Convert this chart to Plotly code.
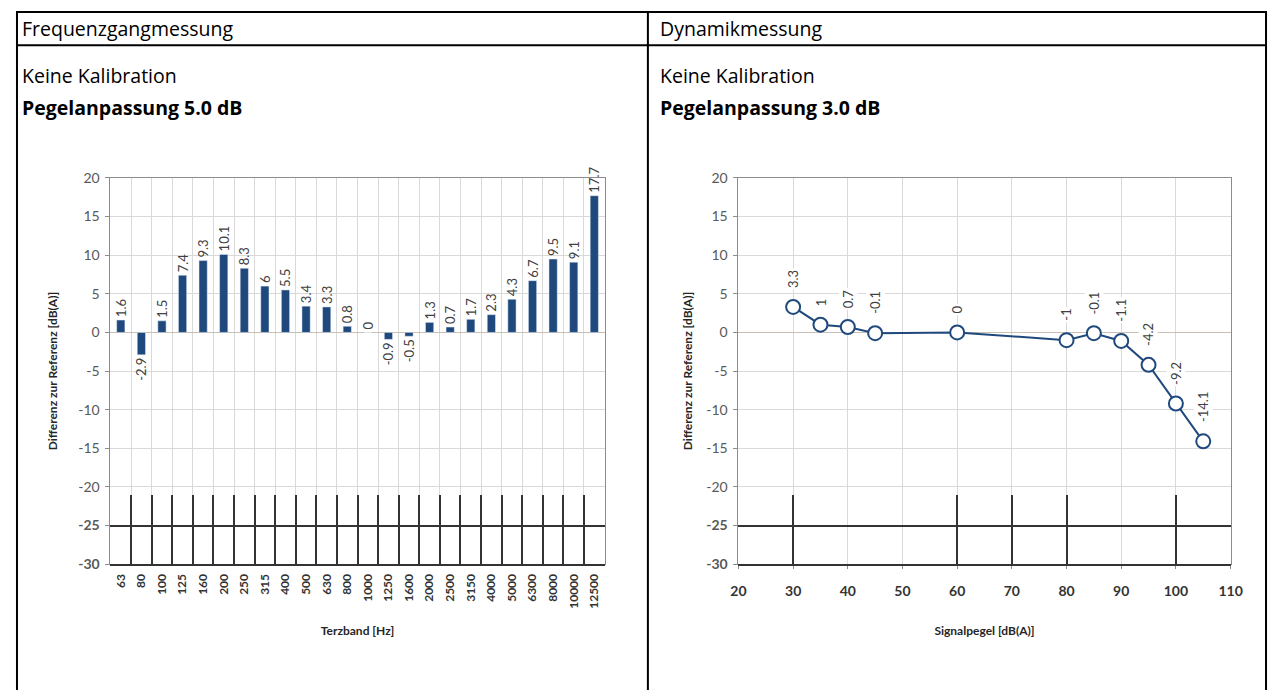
import plotly.graph_objects as go

# ---- data ----
terzband = ["63", "80", "100", "125", "160", "200", "250", "315", "400", "500", "630", "800",
            "1000", "1250", "1600", "2000", "2500", "3150", "4000", "5000", "6300", "8000",
            "10000", "12500"]
freq_diff = [1.6, -2.9, 1.5, 7.4, 9.3, 10.1, 8.3, 6, 5.5, 3.4, 3.3, 0.8,
             0, -0.9, -0.5, 1.3, 0.7, 1.7, 2.3, 4.3, 6.7, 9.5, 9.1, 17.7]

signalpegel = [30, 35, 40, 45, 60, 80, 85, 90, 95, 100, 105]
dyn_diff = [3.3, 1, 0.7, -0.1, 0, -1, -0.1, -1.1, -4.2, -9.2, -14.1]

y_range = [-30, 20]
y_ticks = [20, 15, 10, 5, 0, -5, -10, -15, -20, -25, -30]
x2_range = [20, 110]
band_range = [-30, -21]
band_ticks = [-25, -30]
dyn_dark_x = [30, 60, 70, 80, 100]

# page body has an 8px margin; figure fills the rest
OFF = 8
W, H = 1271, 690
def px(x):
    return (x - OFF) / W
def py(y):
    return 1 - (y - OFF) / H

BLUE = "#1f497d"
GRID = "#d9d9d9"
DARK = "#333333"
AXL = "#8c8c8c"
TICKC = "#595959"
CF = "Lato"
DF = "Open Sans"

TOP, BOT = 173, 569          # pixel rows of y=20 and y=-30
def yval_px(v):
    return TOP + (y_range[1] - v) * (BOT - TOP) / (y_range[1] - y_range[0])

fig = go.Figure()

fig.add_trace(go.Bar(
    x=terzband, y=freq_diff, marker_color=BLUE, width=0.4,
    text=[str(v) for v in freq_diff], textposition="outside", textangle=-90,
    constraintext="none",
    textfont=dict(family=CF, size=13, color="#404040"), cliponaxis=False,
    xaxis="x", yaxis="y", showlegend=False))

fig.add_trace(go.Scatter(
    x=signalpegel, y=dyn_diff, mode="lines+markers",
    line=dict(color=BLUE, width=2),
    marker=dict(symbol="circle", size=14, color="white", line=dict(color=BLUE, width=2)),
    xaxis="x2", yaxis="y2", showlegend=False, cliponaxis=False))

# empty helper traces so the darker band subplots get drawn
fig.add_trace(go.Scatter(x=[], y=[], xaxis="x3", yaxis="y3", showlegend=False, hoverinfo="skip"))
fig.add_trace(go.Scatter(x=[], y=[], xaxis="x4", yaxis="y4", showlegend=False, hoverinfo="skip"))

annotations = []
for xv, yv in zip(signalpegel, dyn_diff):
    annotations.append(dict(x=xv, y=yv, xref="x2", yref="y2", text=str(yv), showarrow=False,
                            textangle=-90, yanchor="bottom", yshift=17, bgcolor="white",
                            font=dict(family=CF, size=13, color="#404040")))

ydom = [py(BOT), py(TOP)]
band_dom = [py(BOT), py(yval_px(band_range[1]))]
LDOM = [px(104), px(606)]
RDOM = [px(742), px(1242)]

y_ticktext = [f"<b>{v}</b>" if v in band_ticks else str(v) for v in y_ticks]

def common_y(standoff):
    return dict(range=y_range, tickvals=y_ticks, ticktext=y_ticktext,
                showgrid=True, gridcolor=GRID, gridwidth=1,
                zeroline=True, zerolinecolor="#c9bfb5", zerolinewidth=1,
                showline=True, linecolor=AXL, mirror=True, ticks="outside", ticklen=4,
                tickcolor=AXL, tickfont=dict(family=CF, size=14, color=TICKC), ticklabelstandoff=3,
                title=dict(text="<b>Differenz zur Referenz [dB(A)]</b>",
                           font=dict(family=CF, size=12, color="#262626"), standoff=standoff))

band_y = dict(range=band_range, tickvals=band_ticks, showgrid=True, gridcolor=DARK, gridwidth=2,
              showticklabels=False, zeroline=False, showline=False, ticks="")

fig.update_layout(
    width=W, height=H, margin=dict(l=0, r=0, t=0, b=0),
    paper_bgcolor="white", plot_bgcolor="rgba(0,0,0,0)", bargap=0.6,
    xaxis=dict(domain=LDOM, type="category", tickson="boundaries",
               showgrid=True, gridcolor=GRID, showline=True, linecolor=AXL, mirror=True,
               ticks="", tickangle=-90, anchor="y", ticklabelstandoff=4,
               tickfont=dict(family=CF, size=12, color="#333333", weight="bold"),
               title=dict(text="<b>Terzband [Hz]</b>", font=dict(family=CF, size=12, color="#262626"),
                          standoff=18)),
    yaxis=dict(domain=ydom, anchor="x", **common_y(18)),
    xaxis2=dict(domain=RDOM, range=x2_range, dtick=10, anchor="y2",
                showgrid=True, gridcolor=GRID, showline=True, linecolor=AXL, mirror=True,
                ticks="outside", ticklen=4, tickcolor=AXL, zeroline=False, ticklabelstandoff=10,
                tickfont=dict(family=CF, size=14, color="#333333", weight="bold"),
                title=dict(text="<b>Signalpegel [dB(A)]</b>", font=dict(family=CF, size=12, color="#262626"),
                           standoff=28)),
    yaxis2=dict(domain=ydom, anchor="x2", **common_y(10)),
    # darker grid band at the bottom of both charts
    xaxis3=dict(domain=LDOM, range=[-0.5, len(terzband) - 0.5],
                tickvals=[i - 0.5 for i in range(len(terzband) + 1)],
                showgrid=True, gridcolor=DARK, gridwidth=2, showticklabels=False,
                zeroline=False, showline=True, linecolor=DARK, linewidth=2, ticks="", anchor="y3"),
    yaxis3=dict(domain=band_dom, anchor="x3", **band_y),
    xaxis4=dict(domain=RDOM, range=x2_range, tickvals=dyn_dark_x,
                showgrid=True, gridcolor=DARK, gridwidth=2, showticklabels=False,
                zeroline=False, showline=True, linecolor=DARK, linewidth=2, ticks="", anchor="y4"),
    yaxis4=dict(domain=band_dom, anchor="x4", **band_y),
    annotations=annotations,
)

# table text
texts = [
    ("Frequenzgangmessung", 12, 20, False),
    ("Dynamikmessung", 660, 20, False),
    ("Keine Kalibration", 12, 68, False),
    ("Keine Kalibration", 660, 68, False),
    ("Pegelanpassung 5.0 dB", 12, 101, True),
    ("Pegelanpassung 3.0 dB", 660, 101, True),
]
for t, x, y, b in texts:
    fig.add_annotation(x=px(x), y=py(y), xref="paper", yref="paper", xanchor="left", yanchor="middle",
                       showarrow=False, text=f"<b>{t}</b>" if b else t,
                       font=dict(family=DF, size=19.5, color="black"))

# table borders
lines = [
    (8, 3, 1279, 3), (8, 37, 1279, 37),
    (9, 3, 9, 698), (650, 3, 650, 698), (1278, 3, 1278, 698),
]
for x0, y0, x1, y1 in lines:
    fig.add_shape(type="line", xref="paper", yref="paper", x0=px(x0), y0=py(y0), x1=px(x1), y1=py(y1),
                  line=dict(color="black", width=2))

fig.write_html("out.html")
